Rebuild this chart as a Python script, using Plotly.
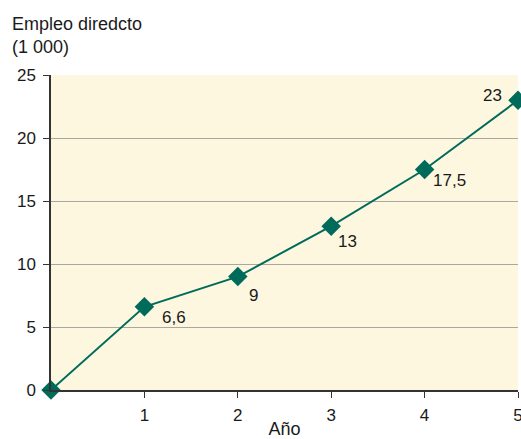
import plotly.graph_objects as go

# Direct employment (thousands) by year
years = [0, 1, 2, 3, 4, 5]
empleo = [0, 6.6, 9, 13, 17.5, 23]
x_ticks = [1, 2, 3, 4, 5]
y_ticks = [0, 5, 10, 15, 20, 25]

# label offsets (pixels) relative to each point; the first point is unlabelled
label_dx = [None, 30, 16, 16, 25, -26]
label_dy = [None, 11, 19, 15, 11, -5]

green = "#006B5B"
family = "Liberation Sans, Arial, sans-serif"
font = dict(family=family, size=17, color="#1a1a1a")
title_font = dict(family=family, size=18, color="#1a1a1a")

fig = go.Figure()
fig.add_trace(go.Scatter(
    x=years, y=empleo,
    mode="lines+markers",
    line=dict(color=green, width=2),
    marker=dict(symbol="diamond", size=15, color=green),
    cliponaxis=False,
    showlegend=False,
))

annotations = [
    dict(text="Empleo diredcto<br>(1 000)", xref="paper", yref="paper",
         x=-51 / 467, y=1 + 75 / 315, xanchor="left", yanchor="top",
         align="left", showarrow=False, font=title_font, xshift=10, yshift=-12),
]
for x, v, dx, dy in zip(years, empleo, label_dx, label_dy):
    if dx is None:
        continue
    annotations.append(dict(
        x=x, y=v, xref="x", yref="y", text=f"{v:g}".replace(".", ","),
        showarrow=False, xanchor="center", yanchor="middle",
        xshift=dx, yshift=-dy, font=font,
    ))

fig.update_layout(
    width=521, height=439,
    margin=dict(l=51, r=3, t=75, b=49, autoexpand=False),
    paper_bgcolor="white",
    plot_bgcolor="#FDF7E0",
    font=font,
    xaxis=dict(
        range=[0, 5], tickvals=x_ticks, showgrid=False,
        showline=True, linecolor="#333333", linewidth=1.5,
        ticks="outside", ticklen=6, tickcolor="#333333",
        zeroline=False, ticklabelstandoff=3, ticklabeloverflow="allow",
        automargin=False,
        title=dict(text="Año", standoff=2, font=title_font),
    ),
    yaxis=dict(
        range=[0, 25], tickvals=y_ticks,
        showgrid=True, gridcolor="#A8A8A0", gridwidth=1,
        showline=True, linecolor="#333333", linewidth=1.5,
        ticks="outside", ticklen=6, tickcolor="#333333",
        zeroline=False, ticklabelstandoff=4, automargin=False,
    ),
    annotations=annotations,
)

fig.write_html("out.html")
